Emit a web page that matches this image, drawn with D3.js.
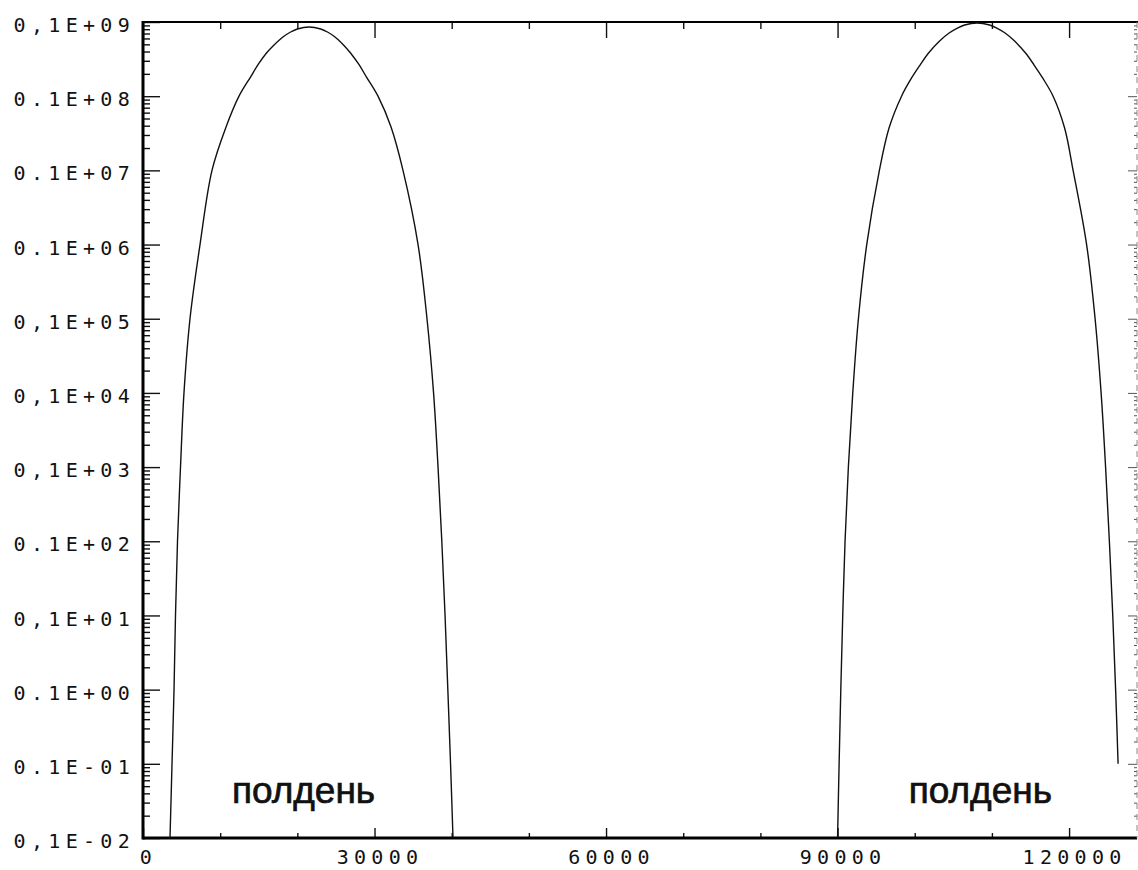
<!DOCTYPE html>
<html>
<head>
<meta charset="utf-8">
<script src="https://cdn.jsdelivr.net/npm/d3@7/dist/d3.min.js"></script>
<style>
  html, body { margin: 0; padding: 0; background: #fff; }
  svg { display: block; }
  .tick-label { font-family: "DejaVu Sans Mono", monospace; font-size: 20px; letter-spacing: 5.3px; fill: #111; }
  .note { font-family: "Liberation Sans", Arial, sans-serif; font-size: 37px; fill: #111; stroke: #111; stroke-width: 0.7px; }
</style>
</head>
<body>
<svg id="chart" width="1138" height="870"></svg>
<script>
// Flux over two daily cycles (time in seconds, log-scale values)
const arch1Time  = [3500, 3760, 4020, 4210, 4470, 4860, 5310, 6090, 7390, 8940, 10760, 12440, 13930, 14970, 16000, 16980, 18130, 19130, 20000, 21510,
                    23030, 23900, 24880, 25980, 26890, 27930, 28960, 30450, 32140, 33690, 35640, 36800, 37650, 38230, 38720, 39140, 39500, 39850, 40170];
const arch1Value = [1e-3, 1e-2, 1e-1, 1, 10, 1e2, 1e3, 1e4, 1e5, 1e6, 3.84e6, 1e7, 1.81e7, 2.72e7, 3.82e7, 4.9e7, 6.28e7, 7.33e7, 8.05e7, 8.57e7,
                    8.05e7, 7.33e7, 6.28e7, 4.9e7, 3.82e7, 2.72e7, 1.81e7, 1e7, 3.84e6, 1e6, 1e5, 1e4, 1e3, 1e2, 10, 1, 1e-1, 1e-2, 1e-3];

const arch2Time  = [90000, 90200, 90420, 90670, 90970, 91400, 91970, 92700, 93780, 95420, 96670, 98290, 99590, 100690, 101790, 103220, 104450, 105530, 106460, 108080,
                    109700, 110630, 111710, 112940, 114360, 115470, 116570, 117930, 119420, 120520, 122270, 123370, 124150, 124730, 125220, 125660, 126030, 126350];
const arch2Value = [1e-3, 1e-2, 1e-1, 1, 10, 1e2, 1e3, 1e4, 1e5, 1e6, 3.72e6, 1e7, 1.76e7, 2.63e7, 3.82e7, 5.54e7, 7.11e7, 8.3e7, 9.11e7, 9.69e7,
                    9.11e7, 8.3e7, 7.11e7, 5.54e7, 3.82e7, 2.63e7, 1.76e7, 1e7, 3.72e6, 1e6, 1e5, 1e4, 1e3, 1e2, 10, 1, 1e-1, 1e-2];

// Axis ticks
const yDecades = [1e8, 1e7, 1e6, 1e5, 1e4, 1e3, 1e2, 1e1, 1e0, 1e-1, 1e-2, 1e-3];
const yTickLabels = ["0,1E+09", "0.1E+08", "0.1E+07", "0.1E+06", "0,1E+05", "0,1E+04", "0,1E+03", "0.1E+02", "0,1E+01", "0.1E+00", "0.1E-01", "0,1E-02"];
const xMajorTicks = [0, 30000, 60000, 90000, 120000];
const xTickLabels = ["0", "30000", "60000", "90000", "120000"];
const xMinorTicks = [10000, 20000, 40000, 50000, 70000, 80000, 100000, 110000];

// Noon annotations
const noonTimes = [20800, 108500];
const noonLabel = "полдень";

(function draw() {
const svg = d3.select("#chart");
const pLeft = 143, pRight = 1137, pTop = 22, pBottom = 838;

const x = d3.scaleLinear().domain([0, 128800]).range([pLeft, pRight]);
const y = d3.scaleLog().domain([1e-3, 1e8]).range([pBottom, pTop]);

// minor log ticks 2..9 within each decade
const yMinor = [];
yDecades.slice(1).forEach(d => { for (let k = 2; k <= 9; k++) yMinor.push(d * k); });

// left axis: major ticks with labels
const gLeft = svg.append("g").attr("transform", `translate(${pLeft},0)`);
gLeft.call(d3.axisLeft(y).tickValues(yDecades).tickSizeInner(-17).tickSizeOuter(0)
  .tickPadding(8).tickFormat((d, i) => yTickLabels[i]));
gLeft.selectAll("text").attr("class", "tick-label").attr("dy", "0.48em").attr("font-family", null).attr("font-size", null);
gLeft.append("g").call(d3.axisLeft(y).tickValues(yMinor).tickSizeInner(-7).tickSizeOuter(0).tickFormat(""));

// right axis
const gRight = svg.append("g").attr("transform", `translate(${pRight},0)`);
gRight.call(d3.axisRight(y).tickValues(yDecades).tickSizeInner(-9).tickSizeOuter(0).tickFormat(""));
gRight.append("g").call(d3.axisRight(y).tickValues(yMinor).tickSizeInner(-3).tickSizeOuter(0).tickFormat(""));

// bottom axis
const gBottom = svg.append("g").attr("transform", `translate(0,${pBottom})`);
gBottom.call(d3.axisBottom(x).tickValues(xMajorTicks).tickSizeInner(-10).tickSizeOuter(0)
  .tickPadding(12).tickFormat((d, i) => xTickLabels[i]));
gBottom.selectAll("text").attr("class", "tick-label").attr("dy", "0.71em").attr("dx", "0.25em").attr("font-family", null).attr("font-size", null);
gBottom.append("g").call(d3.axisBottom(x).tickValues(xMinorTicks).tickSizeInner(-5).tickSizeOuter(0).tickFormat(""));

// top axis
const gTop = svg.append("g").attr("transform", `translate(0,${pTop})`);
gTop.call(d3.axisTop(x).tickValues(xMajorTicks).tickSizeInner(-16).tickSizeOuter(0).tickFormat(""));
gTop.append("g").call(d3.axisTop(x).tickValues(xMinorTicks).tickSizeInner(-7).tickSizeOuter(0).tickFormat(""));

svg.selectAll(".domain").remove();
svg.selectAll(".tick line").attr("stroke", "#111").attr("stroke-width", 1.4);
gRight.selectAll(".tick line").attr("stroke", "#555").attr("stroke-width", 1);

// frame
svg.append("line").attr("x1", pLeft).attr("x2", pLeft).attr("y1", pTop - 1).attr("y2", pBottom + 1.5)
  .attr("stroke", "#000").attr("stroke-width", 3);
svg.append("line").attr("x1", pLeft).attr("x2", pRight).attr("y1", pBottom).attr("y2", pBottom)
  .attr("stroke", "#000").attr("stroke-width", 3);
svg.append("line").attr("x1", pLeft).attr("x2", pRight + 1).attr("y1", pTop).attr("y2", pTop)
  .attr("stroke", "#000").attr("stroke-width", 2);
svg.append("line").attr("x1", pRight).attr("x2", pRight).attr("y1", pTop).attr("y2", pBottom)
  .attr("stroke", "#888").attr("stroke-width", 1).attr("stroke-dasharray", "6,5");

// curves
const line = d3.line().x(d => x(d[0])).y(d => y(d[1])).curve(d3.curveCatmullRom.alpha(0.5));
[[arch1Time, arch1Value], [arch2Time, arch2Value]].forEach(([t, v]) => {
  svg.append("path").datum(t.map((ti, i) => [ti, v[i]]))
    .attr("d", line).attr("fill", "none").attr("stroke", "#111").attr("stroke-width", 1.4);
});

// noon labels
svg.selectAll(".note").data(noonTimes).enter().append("text")
  .attr("class", "note").attr("x", d => x(d)).attr("y", 803)
  .attr("text-anchor", "middle").text(noonLabel);
})();
</script>
</body>
</html>
